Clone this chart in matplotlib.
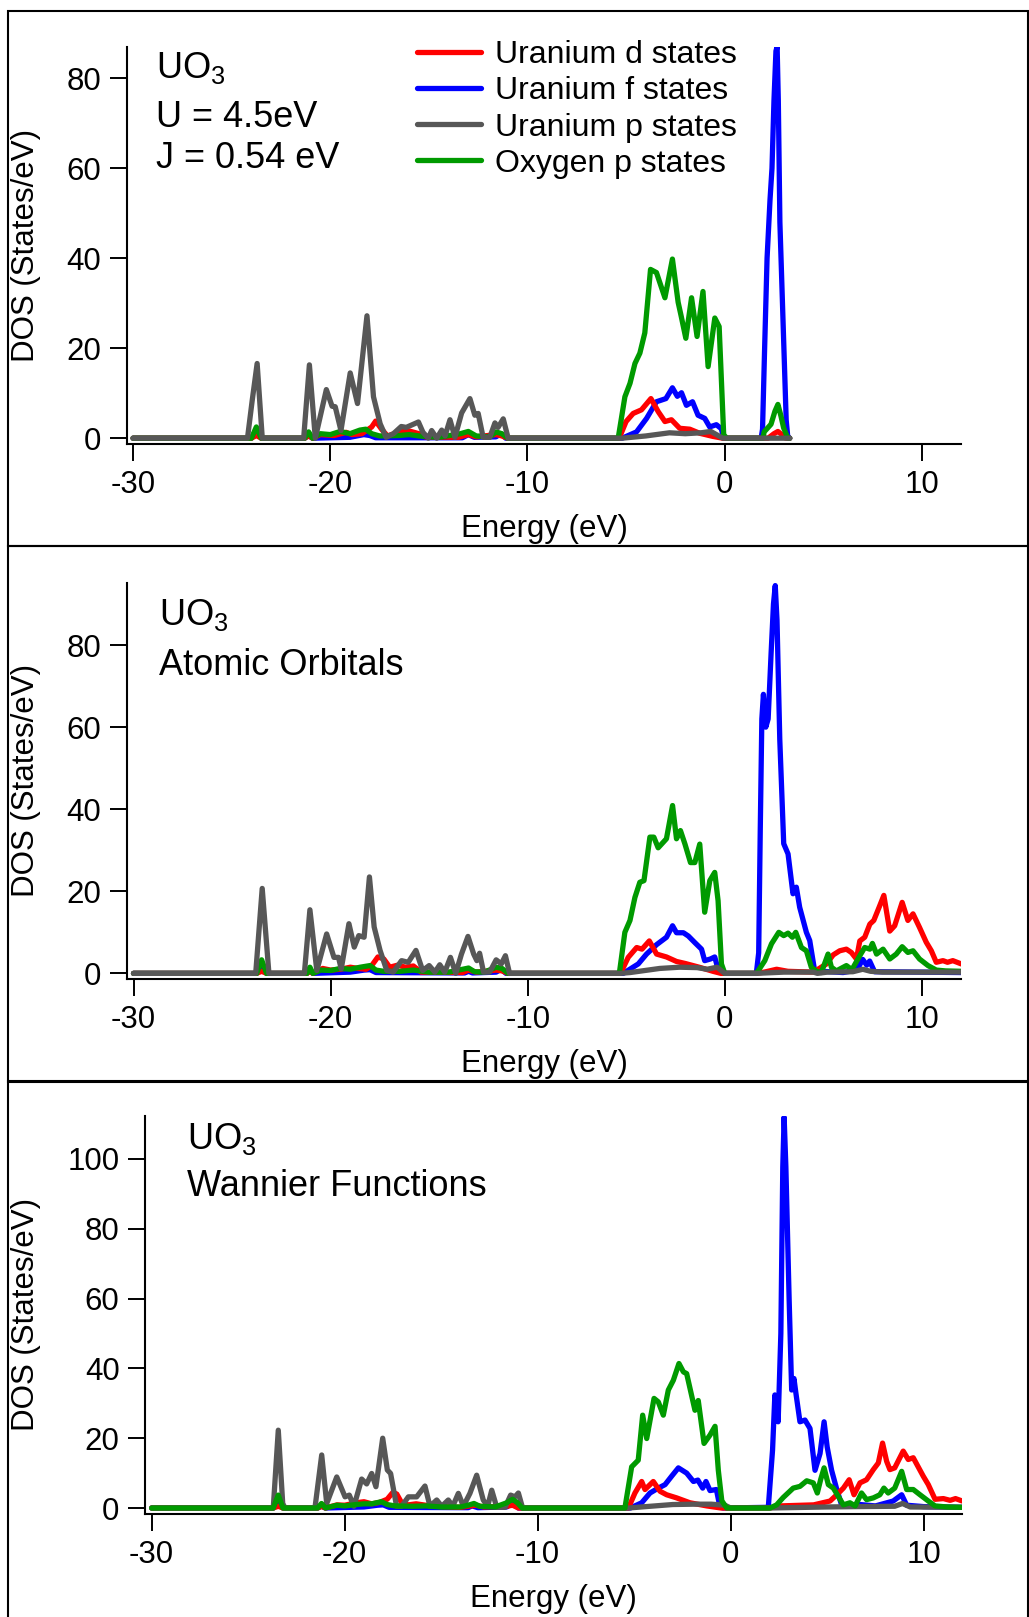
import matplotlib.pyplot as plt
from matplotlib.patches import Rectangle

plt.rcParams['font.family'] = ['Liberation Sans', 'DejaVu Sans']
plt.rcParams['mathtext.fontset'] = 'custom'
plt.rcParams['mathtext.rm'] = 'Liberation Sans'
plt.rcParams['mathtext.it'] = 'Liberation Sans:italic'
plt.rcParams['axes.unicode_minus'] = False

W, H = 1029, 1617

RED = '#ff0000'
BLUE = '#0000ff'
GRAY = '#575757'
GREEN = '#009a00'

labels = ['Uranium d states', 'Uranium f states', 'Uranium p states', 'Oxygen p states']

# ---------------- panel 1 : U = 4.5 eV, J = 0.54 eV ----------------
p1_d_e = [-30, -24.0, -23.75, -23.5, -21.3, -21.1, -20.9, -20.5, -19.8, -19.2, -18.9, -18.4, -17.9,
          -17.7, -17.4, -17.1, -16.5, -16.0, -15.5, -15.2, -13.5, -13.0, -12.6, -11.6, -11.3, -11.0,
          -5.35, -5.0, -4.64, -4.22, -3.74, -3.37, -3.03, -2.7, -2.28, -1.77, -1.27, -0.6, -0.1,
          2.2, 2.5, 2.7, 2.9, 3.1, 3.3]
p1_d_v = [0, 0, 0.6, 0, 0, 0.5, 0, 0.8, 0.6, 1.3, 0.8, 1.0, 2.5,
          3.8, 2.0, 0.5, 1.4, 1.6, 1.0, 0.3, 0.2, 0.8, 0.3, 0.8, 0.5, 0,
          0, 3.7, 5.5, 6.3, 8.8, 5.9, 3.7, 4.1, 2.2, 2.0, 1.1, 0.4, 0,
          0, 1.0, 1.5, 0.8, 0, 0]

p1_f_e = [-30, -24.0, -23.75, -23.5, -21.3, -21.1, -20.9, -19.0, -18.3, -18.0, -17.7, -13.3, -13.0,
          -12.7, -11.6, -11.35, -11.1, -5.2, -4.47, -3.96, -3.46, -2.98, -2.65, -2.4, -2.19, -1.94,
          -1.63, -1.35, -1.01, -0.76, -0.42, -0.17, -0.05, 1.85, 1.92, 2.02, 2.15, 2.3, 2.4, 2.5,
          2.6, 2.66, 2.72, 2.8, 2.96, 3.12, 3.2, 3.3]
p1_f_v = [0, 0, 1.5, 0, 0, 0.6, 0, 0.2, 0.8, 0.6, 0.1, 0.1, 0.8,
          0.2, 0.3, 1.0, 0, 0, 1.4, 4.4, 8.1, 8.8, 11.2, 9.3, 10.1, 7.3,
          8.1, 5.1, 4.4, 2.5, 3.0, 2.1, 0, 0, 2, 19, 40, 53, 60, 75,
          86, 87, 75, 48, 26, 4, 0.3, 0]

p1_p_e = [-30, -24.2, -23.96, -23.71, -23.45, -21.35, -21.06, -20.76, -20.2, -19.91, -19.75, -19.46,
          -18.99, -18.62, -18.14, -17.81, -17.47, -17.17, -16.8, -16.4, -16.15, -15.53, -15.3, -15.03,
          -14.86, -14.6, -14.35, -14.18, -13.93, -13.68, -13.34, -12.92, -12.67, -12.5, -12.25,
          -11.91, -11.65, -11.49, -11.23, -10.98, -5.2, -4.0, -2.8, -2.0, -1.2, -0.7, -0.1, 3.3]
p1_p_v = [0, 0, 8.4, 16.6, 0, 0, 16.3, 0, 10.8, 7.1, 7.0, 1.7,
          14.5, 7.7, 27.2, 9.2, 3.2, 0.2, 1.0, 2.6, 2.4, 3.6, 1.3, 0,
          1.7, 0, 1.8, 0.5, 4.1, 0.2, 5.6, 8.8, 5.1, 5.5, 0.2,
          0.2, 3.4, 2.4, 4.3, 0, 0, 0.5, 1.2, 1.0, 1.2, 1.5, 0, 0]

p1_o_e = [-30, -24.0, -23.75, -23.5, -21.3, -21.1, -20.9, -20.5, -20.0, -19.5, -19.0, -18.5, -18.2,
          -17.9, -17.5, -16.5, -16.0, -15.5, -14.5, -13.4, -13.0, -12.6, -11.9, -11.6, -11.3, -11.0,
          -5.4, -5.06, -4.8, -4.55, -4.3, -4.05, -3.76, -3.46, -3.03, -2.65, -2.36, -2.2, -1.97,
          -1.68, -1.4, -1.1, -0.84, -0.5, -0.28, -0.05, 0.1, 1.95, 2.0, 2.35, 2.55, 2.7, 2.85, 2.99,
          3.2, 3.3]
p1_o_v = [0, 0, 2.5, 0, 0, 1.4, 0, 1.0, 0.8, 1.5, 1.0, 1.8, 2.0,
          1.0, 0.5, 0.6, 0.8, 0.5, 0.2, 1.0, 1.5, 0.5, 0.3, 1.4, 1.0, 0,
          0, 9.2, 12.2, 16.6, 18.9, 23.4, 37.5, 36.8, 31.2, 39.8, 30.2, 27.0, 22.2,
          31.2, 22.6, 32.6, 15.9, 26.7, 24.8, 0.8, 0, 0, 1.4, 3.1, 6.0, 7.5, 5.0, 2.3,
          0, 0]

# ---------------- panel 2 : atomic orbitals ----------------
p2_d_e = [-30, -23.75, -23.5, -23.25, -21.2, -21.05, -20.9, -20.4, -20.0, -19.5, -19.0, -18.6, -18.2,
          -17.9, -17.6, -17.3, -17.0, -16.6, -16.2, -15.8, -15.4, -13.3, -13.0, -12.6, -11.6, -11.3,
          -11.0, -5.35, -5.24, -4.9, -4.47, -4.2, -3.83, -3.46, -2.96, -2.45, -2.0, -1.3, -0.6, -0.2,
          1.6, 2.0, 2.63, 3.2, 4.5, 5.16, 5.5, 5.83, 6.17, 6.42, 6.68, 6.85, 7.1, 7.36, 7.56, 7.83,
          8.07, 8.37, 8.62, 9.0, 9.29, 9.55, 9.88, 10.22, 10.48, 10.73, 11.07, 11.3, 11.57, 12.0]
p2_d_v = [0, 0, 0.5, 0, 0, 0.5, 0, 1.2, 0.8, 1.0, 1.5, 1.2, 1.0,
          2.0, 4.0, 3.5, 1.5, 2.0, 1.5, 1.8, 0.3, 0.2, 0.8, 0.3, 0.8, 0.6,
          0, 0, 0.5, 3.9, 6.3, 5.9, 7.9, 4.7, 4.0, 2.9, 2.4, 1.5, 0.5, 0,
          0, 0.3, 1.0, 0.5, 0.3, 2.3, 4.5, 5.5, 5.9, 5.1, 3.5, 7.9, 8.8, 12.0, 12.9, 16.1,
          19.0, 10.3, 11.6, 17.3, 12.9, 14.5, 11.2, 7.6, 5.5, 2.7, 3.1, 2.7, 3.1, 2.3]

p2_f_e = [-30, -23.75, -23.5, -23.25, -21.2, -21.05, -20.9, -19.0, -18.3, -18.0, -17.7, -13.2, -13.0,
          -12.8, -11.6, -11.35, -11.1, -5.15, -4.39, -3.97, -3.46, -2.96, -2.65, -2.45, -2.1, -1.85,
          -1.52, -1.18, -1.02, -0.73, -0.51, -0.34, -0.1, 1.6, 1.72, 1.8, 1.88, 1.96, 2.08, 2.2,
          2.35, 2.47, 2.56, 2.65, 2.79, 2.99, 3.21, 3.46, 3.63, 3.8, 4.14, 4.31, 4.56, 6.0, 6.7,
          7.0, 7.2, 7.35, 7.6, 12.0]
p2_f_v = [0, 0, 2.0, 0, 0, 0.7, 0, 0.3, 0.8, 0.9, 0.2, 0.1, 0.5,
          0.1, 0.3, 1.0, 0, 0, 2.3, 4.7, 7.0, 8.8, 11.6, 9.9, 9.9, 9.1,
          7.5, 5.9, 3.1, 3.5, 4.0, 1.0, 0, 0, 5, 35, 62, 68, 60, 62,
          78, 90, 94.5, 86, 57, 31.6, 29.1, 19.4, 21.0, 16.1, 10.0, 8.0, 0.6, 0.2, 0.8,
          3.4, 2.0, 3.0, 0.4, 0.2]

p2_p_e = [-30, -23.8, -23.47, -23.13, -21.33, -21.05, -20.7, -20.2, -19.83, -19.6, -19.46, -19.07,
          -18.8, -18.57, -18.3, -18.03, -17.79, -17.49, -17.15, -16.82, -16.4, -16.06, -15.67,
          -15.33, -15.0, -14.71, -14.46, -14.21, -13.92, -13.65, -13.36, -13.03, -12.74, -12.58,
          -12.44, -12.24, -11.93, -11.6, -11.34, -11.13, -10.92, -5.3, -4.8, -3.3, -2.3, -1.4, -0.9,
          -0.4, 0.0, 1.6, 3.0, 4.5, 4.7, 5.2, 6.5, 7.0, 7.4, 8.0, 12.0]
p2_p_v = [0, 0, 20.7, 0, 0, 15.5, 0.7, 9.6, 3.9, 3.9, 1.1, 12.1,
          6.4, 9.2, 8.8, 23.5, 11.3, 5.6, 0.7, 0.3, 3.1, 2.7, 5.6,
          0.7, 1.9, 0.3, 2.1, 0.3, 3.9, 0, 4.7, 9.0, 4.7, 3.1,
          4.9, 0.3, 0.3, 3.3, 2.3, 4.3, 0, 0, 0.2, 1.2, 1.5, 1.4, 1.0,
          1.5, 0, 0, 0.3, 0.3, 0, 0.3, 0.4, 1.0, 0.5, 0.3, 0.3]

p2_o_e = [-30, -23.75, -23.5, -23.25, -21.2, -21.05, -20.9, -20.5, -20.0, -19.5, -19.0, -18.5, -18.0,
          -17.7, -17.3, -16.5, -15.8, -15.0, -14.0, -13.3, -13.0, -12.7, -12.2, -11.6, -11.3, -11.0,
          -5.35, -5.07, -4.81, -4.56, -4.31, -4.1, -3.8, -3.6, -3.38, -2.96, -2.65, -2.45, -2.25,
          -2.02, -1.74, -1.52, -1.27, -1.02, -0.76, -0.51, -0.34, -0.17, 0.0, 1.6, 1.69, 2.03, 2.37,
          2.74, 2.99, 3.21, 3.43, 3.6, 3.89, 4.14, 4.39, 4.65, 4.9, 5.24, 5.41, 5.66, 6.17, 6.45,
          6.85, 7.1, 7.36, 7.49, 7.7, 8.03, 8.37, 8.7, 9.0, 9.29, 9.55, 9.88, 10.31, 10.73, 11.2, 12.0]
p2_o_v = [0, 0, 3.3, 0, 0, 1.5, 0, 0.8, 0.7, 1.2, 1.0, 1.5, 1.9,
          0.8, 0.5, 0.5, 0.8, 0.3, 0.3, 1.0, 1.3, 0.4, 0.3, 1.5, 1.2, 0,
          0, 10.0, 12.9, 18.5, 22.2, 22.6, 33.2, 33.2, 30.6, 32.8, 40.9, 32.8, 34.8,
          31.5, 27.0, 27.0, 31.5, 14.9, 22.6, 24.6, 17.7, 2.3, 0, 0, 0.6, 3.1, 7.2,
          10.0, 9.2, 9.8, 8.8, 10.0, 6.3, 5.5, 1.5, 0.5, 0.2, 4.7, 1.5, 0.6, 1.9, 0.9,
          4.3, 6.3, 5.9, 7.3, 4.7, 5.9, 3.5, 4.7, 6.5, 5.1, 5.5, 3.5, 1.9, 0.8, 0.6, 0.5]

# ---------------- panel 3 : Wannier functions ----------------
p3_d_e = [-30, -23.7, -23.44, -23.2, -21.4, -21.2, -21.0, -20.4, -20.0, -19.4, -19.0, -18.6, -18.2,
          -17.8, -17.5, -17.3, -17.05, -16.7, -16.3, -15.8, -15.3, -14.0, -13.2, -12.8, -11.6, -11.3,
          -11.0, -5.3, -5.22, -4.96, -4.61, -4.44, -4.01, -3.66, -3.32, -2.8, -2.11, -1.24, -0.5,
          2.0, 2.55, 4.3, 5.15, 5.5, 5.84, 6.14, 6.39, 6.7, 7.04, 7.39, 7.65, 7.87, 8.08, 8.25,
          8.5, 8.94, 9.2, 9.46, 9.98, 10.24, 10.59, 11.02, 11.37, 11.65, 12.0]
p3_d_v = [0, 0, 0.5, 0, 0, 0.5, 0, 0.9, 0.8, 1.5, 1.8, 1.2, 1.6,
          2.5, 4.5, 4.0, 1.5, 0.9, 1.2, 0.8, 0.5, 0.2, 0.8, 0.3, 0.5, 0.8,
          0, 0, 1.0, 4.3, 7.6, 5.3, 7.6, 4.8, 3.8, 2.9, 1.5, 0.6, 0,
          0, 0.6, 0.9, 2.0, 3.8, 5.7, 8.1, 3.8, 7.2, 8.1, 11.0, 12.9, 18.6, 13.4, 11.0,
          11.5, 16.3, 13.9, 14.4, 9.1, 6.7, 2.5, 2.7, 2.2, 2.7, 2.0]

p3_f_e = [-30, -23.7, -23.44, -23.2, -21.4, -21.2, -21.0, -19.0, -18.3, -18.0, -17.7, -13.6, -13.4,
          -13.1, -11.6, -11.3, -11.0, -5.2, -4.61, -4.18, -3.75, -3.4, -3.06, -2.71, -2.28, -1.93,
          -1.7, -1.45, -1.28, -1.07, -0.74, -0.56, -0.4, 1.95, 2.17, 2.29, 2.46, 2.6, 2.7, 2.77,
          2.86, 3.03, 3.16, 3.28, 3.38, 3.59, 3.85, 4.11, 4.37, 4.63, 4.84, 5.0, 5.23, 5.48, 5.74,
          6.0, 6.7, 7.5, 8.42, 8.86, 9.12, 10.0, 12.0]
p3_f_v = [0, 0, 2.0, 0, 0, 0.5, 0, 0.3, 0.8, 0.9, 0.2, 0.1, 0.6,
          0.1, 0.3, 1.5, 0, 0, 1.5, 4.3, 5.7, 6.7, 9.1, 11.5, 10.0, 7.6,
          8.0, 5.7, 7.6, 5.0, 5.3, 0.4, 0, 0.2, 16.6, 32.4, 24.7, 50, 97.7, 112,
          97.7, 59.6, 33.8, 37.1, 32.9, 24.7, 25.2, 22.8, 10.8, 15.6, 24.7, 17.5, 10.8, 5.7, 1.0,
          0.6, 1.0, 0.6, 2.0, 3.8, 0.8, 0.4, 0.2]

p3_p_e = [-30, -23.7, -23.44, -23.21, -23.09, -21.54, -21.19, -20.93, -20.41, -19.98, -19.76, -19.52,
          -19.12, -18.86, -18.6, -18.38, -18.03, -17.79, -17.62, -17.31, -17.05, -16.7, -16.27,
          -15.84, -15.58, -15.23, -14.97, -14.63, -14.4, -14.11, -13.85, -13.51, -13.16, -12.82,
          -12.59, -12.38, -12.12, -11.69, -11.4, -11.18, -11.0, -10.78, -5.3, -4.4, -3.0, -1.9,
          -1.0, -0.3, 0.0, 2.0, 5.0, 6.5, 8.5, 8.9, 9.3, 12.0]
p3_p_v = [0, 0, 22.3, 1.3, 0, 0, 15.2, 1.3, 8.9, 3.2, 3.7, 0.5,
          8.3, 6.9, 9.9, 6.1, 20.0, 10.9, 9.9, 0.5, 0.5, 3.2, 3.2,
          6.3, 0.5, 2.3, 0.5, 2.3, 0.5, 4.2, 0.5, 4.2, 9.4, 2.3,
          0.5, 5.1, 0.2, 0.2, 3.7, 3.2, 4.3, 0, 0, 0.4, 1.0, 1.1,
          1.1, 0.8, 0, 0, 0.3, 0.4, 0.5, 1.3, 0.3, 0.2]

p3_o_e = [-30, -23.7, -23.44, -23.2, -21.4, -21.2, -21.0, -20.4, -20.0, -19.4, -19.0, -18.6, -18.1,
          -17.8, -17.4, -16.5, -15.8, -15.0, -14.0, -13.6, -13.3, -13.0, -12.2, -11.6, -11.3, -11.05,
          -10.8, -5.48, -5.13, -4.79, -4.56, -4.35, -3.97, -3.75, -3.49, -3.23, -2.97, -2.68, -2.45,
          -2.28, -1.85, -1.68, -1.38, -1.07, -0.81, -0.64, -0.46, -0.21, 2.04, 2.38, 2.72, 3.24,
          3.59, 3.94, 4.28, 4.49, 4.66, 4.84, 5.06, 5.32, 5.58, 5.84, 6.18, 6.45, 6.78, 7.04, 7.39,
          7.73, 7.94, 8.16, 8.5, 8.86, 9.12, 9.46, 9.81, 10.24, 10.59, 11.2, 12.0]
p3_o_v = [0, 0, 3.7, 0, 0, 1.3, 0, 0.8, 0.6, 1.0, 1.2, 1.2, 1.8,
          1.0, 0.6, 0.5, 0.6, 0.3, 0.3, 0.8, 1.3, 0.5, 0.3, 1.5, 2.5, 1.5,
          0, 0, 11.8, 13.7, 26.6, 19.9, 31.4, 30.4, 26.6, 33.8, 36.6, 41.4, 39.0,
          38.5, 28.0, 30.8, 18.5, 20.9, 23.4, 10.8, 2.1, 0, 0, 0.9, 3.0, 5.7,
          6.2, 7.8, 7.2, 4.3, 8.1, 11.5, 6.7, 5.7, 3.3, 0.9, 1.5, 0.6, 4.3, 2.4, 2.9,
          3.8, 5.7, 4.3, 5.7, 10.5, 5.3, 5.3, 3.8, 2.0, 0.6, 0.3, 0.2]

xticks = [-30, -20, -10, 0, 10]
yticks_12 = [0, 20, 40, 60, 80]
yticks_3 = [0, 20, 40, 60, 80, 100]


def px_axes(left, top, right, bottom):
    return [left / W, 1 - bottom / H, (right - left) / W, (bottom - top) / H]


def style_axes(ax, xlim, ylim, yticks, height_px, ylab_x):
    ax.set_xlim(*xlim)
    ax.set_ylim(*ylim)
    ax.set_xticks(xticks)
    ax.set_yticks(yticks)
    ax.spines['top'].set_visible(False)
    ax.spines['right'].set_visible(False)
    for s in ['left', 'bottom']:
        ax.spines[s].set_linewidth(1.5)
    ax.tick_params(direction='out', length=12, width=1.4, labelsize=22.5)
    ax.tick_params(axis='x', pad=7)
    ax.tick_params(axis='y', pad=6.5)
    ax.set_xlabel('Energy (eV)', fontsize=22.5, va='center')
    ax.xaxis.set_label_coords(0.5, -85 / height_px)
    ax.set_ylabel('DOS (States/eV)', fontsize=22.5, va='center')
    ax.yaxis.set_label_coords(ylab_x, 0.5)


def draw(ax, series):
    lines = {}
    for key, e, v, c in series:
        ln, = ax.plot(e, v, color=c, lw=3.8, solid_capstyle='round', solid_joinstyle='round')
        lines[key] = ln
    return lines


def main():
    fig = plt.figure(figsize=(W / 100, H / 100), dpi=100)

    # panel frames
    for top, bottom in [(10.7, 546.4), (546.4, 1081.5), (1081.5, 1620)]:
        fig.add_artist(Rectangle((7.5 / W, 1 - bottom / H), (1027.5 - 7.5) / W, (bottom - top) / H,
                                 transform=fig.transFigure, fill=False, ec='black', lw=1.5))

    ax1 = fig.add_axes(px_axes(126.6, 47.5, 961.3, 443.6))
    ax2 = fig.add_axes(px_axes(127.0, 582.7, 961.3, 978.7))
    ax3 = fig.add_axes(px_axes(145.3, 1116.0, 961.5, 1513.6))

    l1 = draw(ax1, [('f', p1_f_e, p1_f_v, BLUE), ('d', p1_d_e, p1_d_v, RED),
                    ('o', p1_o_e, p1_o_v, GREEN), ('p', p1_p_e, p1_p_v, GRAY)])
    draw(ax2, [('f', p2_f_e, p2_f_v, BLUE), ('d', p2_d_e, p2_d_v, RED),
               ('o', p2_o_e, p2_o_v, GREEN), ('p', p2_p_e, p2_p_v, GRAY)])
    draw(ax3, [('f', p3_f_e, p3_f_v, BLUE), ('d', p3_d_e, p3_d_v, RED),
               ('p', p3_p_e, p3_p_v, GRAY), ('o', p3_o_e, p3_o_v, GREEN)])

    style_axes(ax1, (-30.33, 12.0), (-1.2, 86.8), yticks_12, 396.1, (26 - 126.6) / 834.3)
    style_axes(ax2, (-30.33, 12.0), (-1.3, 95.2), yticks_12, 396.0, (26 - 127.0) / 834.3)
    style_axes(ax3, (-30.33, 11.96), (-1.6, 112.3), yticks_3, 397.6, (26 - 145.3) / 816.2)

    ax1.legend([l1['d'], l1['f'], l1['p'], l1['o']], labels, loc='upper left',
               bbox_to_anchor=(0.3476, 1.018), frameon=False, fontsize=23,
               handlelength=2.0, handletextpad=0.44, labelspacing=0.19,
               borderpad=0, borderaxespad=0)

    fs = 26
    notes = [(156.0, 77.9, 'UO$_3$'), (156.0, 126.8, 'U = 4.5eV'), (156.0, 167.9, 'J = 0.54 eV'),
             (159.3, 625.0, 'UO$_3$'), (159.3, 675.0, 'Atomic Orbitals'),
             (186.6, 1148.5, 'UO$_3$'), (186.6, 1196.0, 'Wannier Functions')]
    for x, y, t in notes:
        fig.text(x / W, 1 - y / H, t, fontsize=fs, ha='left', va='baseline')

    fig.savefig('out.png', dpi=100)


if __name__ == "__main__":
    main()
